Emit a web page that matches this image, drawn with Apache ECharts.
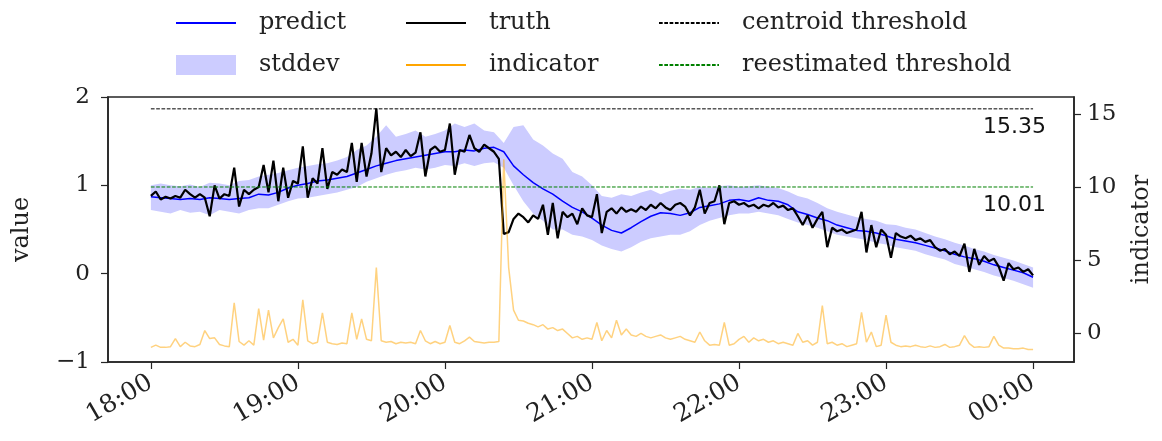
<!DOCTYPE html>
<html><head><meta charset="utf-8">
<script src="https://cdn.jsdelivr.net/npm/echarts@6/dist/echarts.min.js"></script>
<style>html,body{margin:0;padding:0;background:#fff}#c{width:1162px;height:441px}</style>
</head><body><div id="c"></div>
<script>
// minutes after 18:00; truth/indicator sampled every 2 min, predict/stddev every 4 min
const fineStep = 2;
const bandStep = 4;
const truth = [0.88,0.93,0.84,0.87,0.85,0.88,0.86,0.95,0.9,0.86,
 0.9,0.86,0.65,1.0,0.85,0.9,0.88,1.2,0.76,0.95,
 0.9,0.95,0.98,1.23,0.92,1.28,0.82,1.2,0.86,1.05,
 1.02,1.44,0.86,1.08,1.02,1.42,0.96,1.15,1.12,1.18,
 1.15,1.48,1.04,1.48,1.1,1.36,1.87,1.15,1.42,1.34,
 1.38,1.32,1.4,1.33,1.37,1.6,1.1,1.4,1.44,1.38,
 1.4,1.7,1.12,1.4,1.38,1.57,1.42,1.38,1.46,1.42,
 1.38,1.3,0.45,0.47,0.62,0.68,0.64,0.58,0.66,0.62,
 0.78,0.44,0.8,0.4,0.7,0.64,0.68,0.56,0.74,0.66,
 0.64,0.9,0.46,0.7,0.74,0.68,0.75,0.7,0.73,0.7,
 0.76,0.72,0.78,0.74,0.8,0.75,0.72,0.78,0.8,0.76,
 0.66,0.75,0.95,0.68,0.8,0.82,1.0,0.56,0.8,0.82,
 0.78,0.8,0.76,0.78,0.74,0.78,0.76,0.8,0.75,0.77,
 0.72,0.74,0.65,0.55,0.66,0.52,0.62,0.7,0.3,0.52,
 0.48,0.5,0.46,0.48,0.5,0.7,0.24,0.55,0.3,0.5,
 0.44,0.18,0.46,0.42,0.4,0.43,0.38,0.4,0.36,0.38,
 0.3,0.26,0.28,0.22,0.25,0.2,0.34,0.02,0.28,0.1,
 0.2,0.14,0.17,0.08,-0.08,0.12,0.05,0.07,0.02,0.05,
 -0.02];
const indicator = [-0.95,-0.8,-0.95,-0.95,-0.9,-0.35,-0.9,-0.6,-0.85,-0.9,
 -0.75,0.2,-0.35,-0.3,-0.75,-0.85,-0.9,2.1,-0.55,-0.8,
 -0.5,-0.8,1.7,-0.45,1.6,-0.3,0.4,1.0,-0.6,-0.4,
 -0.8,2.3,-0.5,-0.7,-0.6,1.4,-0.6,-0.7,-0.75,-0.65,
 -0.7,1.4,-0.4,1.0,-0.4,-0.5,4.5,-0.5,-0.6,-0.55,
 -0.7,-0.6,-0.65,-0.6,-0.7,0.2,-0.5,-0.7,-0.55,-0.7,
 -0.6,0.55,-0.6,-0.7,-0.5,-0.25,-0.55,-0.6,-0.65,-0.6,
 -0.6,-0.55,11.9,4.5,1.6,0.9,0.85,0.7,0.6,0.45,
 0.6,0.3,0.4,0.2,0.3,0.0,-0.3,-0.2,-0.4,-0.3,
 -0.4,0.75,-0.5,0.2,-0.3,0.9,-0.1,0.3,-0.1,-0.2,
 0.0,-0.2,-0.3,-0.2,-0.1,-0.3,-0.4,-0.3,-0.2,-0.4,
 -0.5,-0.6,0.1,-0.5,-0.8,-0.75,-0.8,0.75,-0.8,-0.7,
 -0.4,-0.2,-0.6,-0.3,-0.5,-0.4,-0.6,-0.5,-0.7,-0.6,
 -0.7,-0.8,0.0,-0.6,-0.5,-0.8,-0.6,1.9,-0.7,-0.6,
 -0.8,-0.7,-0.9,-0.8,-0.7,1.45,-0.6,0.1,-0.9,-0.8,
 1.25,-0.6,-0.8,-0.9,-0.85,-0.9,-0.8,-0.9,-0.95,-0.85,
 -0.95,-0.9,-0.75,-0.95,-0.9,-0.8,-0.15,-0.7,-0.95,-0.9,
 -0.95,-0.9,-0.2,-0.8,-1.0,-1.0,-1.05,-1.05,-1.0,-1.1,
 -1.1];
const predict = [0.87,0.86,0.85,0.84,0.85,0.84,0.86,0.85,0.84,0.85,
 0.86,0.9,0.89,0.92,0.97,1.0,1.02,1.05,1.06,1.08,
 1.1,1.14,1.18,1.22,1.25,1.28,1.3,1.32,1.34,1.36,
 1.38,1.38,1.4,1.39,1.42,1.43,1.38,1.22,1.12,1.03,
 0.96,0.9,0.82,0.75,0.7,0.63,0.55,0.49,0.46,0.52,
 0.59,0.65,0.69,0.68,0.66,0.69,0.75,0.77,0.79,0.83,
 0.84,0.82,0.86,0.83,0.82,0.78,0.7,0.67,0.63,0.6,
 0.55,0.52,0.49,0.48,0.46,0.43,0.39,0.37,0.35,0.32,
 0.29,0.26,0.22,0.19,0.17,0.14,0.1,0.07,0.04,0.01,
 -0.04];
const stdLower = [0.72,0.7,0.68,0.72,0.69,0.7,0.66,0.72,0.7,0.68,
 0.72,0.74,0.74,0.78,0.82,0.85,0.86,0.88,0.9,0.92,
 0.95,0.98,1.04,1.08,1.12,1.15,1.17,1.2,1.18,1.2,
 1.23,1.22,1.25,1.22,1.25,1.26,1.2,1.0,0.82,0.68,
 0.6,0.5,0.5,0.44,0.42,0.38,0.32,0.28,0.25,0.3,
 0.36,0.4,0.42,0.44,0.44,0.48,0.55,0.6,0.63,0.66,
 0.68,0.68,0.7,0.68,0.66,0.62,0.58,0.55,0.52,0.48,
 0.44,0.42,0.4,0.38,0.35,0.33,0.3,0.28,0.26,0.22,
 0.19,0.16,0.11,0.08,0.05,0.02,-0.02,-0.05,-0.08,-0.12,
 -0.16];
const stdUpper = [1.0,1.02,1.0,0.99,1.01,0.98,1.03,1.02,1.0,1.05,
 1.06,1.1,1.12,1.14,1.17,1.2,1.22,1.24,1.25,1.28,
 1.32,1.4,1.45,1.55,1.68,1.55,1.58,1.62,1.55,1.58,
 1.62,1.7,1.66,1.7,1.62,1.6,1.48,1.66,1.68,1.52,
 1.45,1.36,1.3,1.15,1.1,1.0,0.88,0.86,0.9,0.88,
 0.92,0.95,0.9,0.94,0.96,0.95,0.98,0.97,0.99,1.0,
 0.98,0.99,1.0,0.98,0.97,0.93,0.88,0.85,0.8,0.74,
 0.7,0.67,0.64,0.62,0.6,0.56,0.55,0.52,0.5,0.46,
 0.42,0.39,0.35,0.32,0.28,0.25,0.21,0.18,0.15,0.11,
 0.07];
const centroidThreshold = 15.35;
const reestimatedThreshold = 10.01;
const hourTicks = [0, 60, 120, 180, 240, 300, 360];
const indicatorTicks = [0, 5, 10, 15];
const startHour = 18;
const spanEnd = 360;

const pairs = (arr, step) => arr.map((v, i) => [i * step, v]);
const bandData = stdLower.map((lo, i) => [i * bandStep, lo, stdUpper[i]]);

const serif = 'DejaVu Serif';
const tickFont = { fontFamily: serif, fontSize: 23, color: '#222' };
const frameColor = '#262626';

function fmtTime(v) {
  const h = (startHour + Math.floor(v / 60)) % 24;
  const m = ((v % 60) + 60) % 60;
  return String(h).padStart(2, '0') + ':' + String(m).padStart(2, '0');
}
function fmtNum(v) { return v < 0 ? '\u2212' + Math.abs(v) : String(v); }

function thresholdSeries(name, value, color) {
  return {
    name: name, type: 'line', xAxisIndex: 0, yAxisIndex: 1,
    symbol: 'circle', symbolSize: 0, showSymbol: true, silent: true, z: 4,
    lineStyle: { color: color, width: 1, type: [3.7, 1.6] },
    itemStyle: { color: color },
    label: { show: false },
    data: [[0, value], {
      value: [spanEnd, value],
      label: {
        show: true, position: 'bottom', distance: 7, align: 'right', offset: [13, 0],
        fontFamily: 'DejaVu Sans', fontSize: 22, color: '#111',
        formatter: p => p.value[1].toFixed(2)
      }
    }]
  };
}

const chart = echarts.init(document.getElementById('c'), null, { renderer: 'canvas' });
const legendBase = {
  orient: 'vertical', top: 10, padding: 0, itemWidth: 60, itemHeight: 20, itemGap: 16,
  selectedMode: false,
  textStyle: { fontFamily: serif, fontSize: 24, lineHeight: 26, color: '#222', padding: [0, 0, 0, 18] }
};
const hideSym = { opacity: 0 };
const axisLineStyle = { show: true, onZero: false, lineStyle: { color: frameColor, width: 1.6 } };
chart.setOption({
  animation: false,
  backgroundColor: '#fff',
  grid: { left: 108, right: 86, top: 97, bottom: 79, show: true, borderColor: frameColor, borderWidth: 1.6, backgroundColor: 'transparent' },
  legend: [
    Object.assign({}, legendBase, { left: 175, data: [
      { name: 'predict', itemStyle: hideSym },
      { name: 'stddev', icon: 'rect' }] }),
    Object.assign({}, legendBase, { left: 405, data: [
      { name: 'truth', itemStyle: hideSym },
      { name: 'indicator', itemStyle: hideSym, lineStyle: { color: '#FFA500' } }] }),
    Object.assign({}, legendBase, { left: 658, data: [
      { name: 'centroid threshold', itemStyle: hideSym },
      { name: 'reestimated threshold', itemStyle: hideSym }] })
  ],
  xAxis: {
    type: 'value', min: -17.5, max: 376.7,
    axisLine: axisLineStyle,
    axisTick: { show: true, length: 7, lineStyle: { color: frameColor, width: 1.2 }, customValues: hourTicks },
    axisLabel: Object.assign({ rotate: 30, margin: 19, formatter: fmtTime, customValues: hourTicks }, tickFont, { fontSize: 25 }),
    splitLine: { show: false }
  },
  yAxis: [{
    type: 'value', min: -1, max: 2, interval: 1, position: 'left',
    name: 'value', nameLocation: 'middle', nameGap: 74, nameRotate: 90,
    nameTextStyle: { fontFamily: serif, fontSize: 24, color: '#222' },
    axisLine: axisLineStyle,
    axisTick: { show: true, length: 7, lineStyle: { color: frameColor, width: 1.2 } },
    axisLabel: Object.assign({ margin: 18, formatter: fmtNum }, tickFont),
    splitLine: { show: false }
  }, {
    type: 'value', min: -1.95, max: 16.16, position: 'right',
    name: 'indicator', nameLocation: 'middle', nameGap: 56, nameRotate: 90,
    nameTextStyle: { fontFamily: serif, fontSize: 24, color: '#222' },
    axisLine: axisLineStyle,
    axisTick: { show: true, length: 7, lineStyle: { color: frameColor, width: 1.2 }, customValues: indicatorTicks },
    axisLabel: Object.assign({ margin: 13, formatter: fmtNum, customValues: indicatorTicks }, tickFont),
    splitLine: { show: false }
  }],
  series: [
    {
      name: 'stddev', type: 'custom', xAxisIndex: 0, yAxisIndex: 0, z: 1,
      itemStyle: { color: '#CCCCFF' },
      encode: { x: 0, y: [1, 2] },
      data: bandData,
      renderItem: function (params, api) {
        if (params.dataIndex !== 0) return null;
        const pts = [];
        for (let i = 0; i < bandData.length; i++) pts.push(api.coord([bandData[i][0], bandData[i][2]]));
        for (let i = bandData.length - 1; i >= 0; i--) pts.push(api.coord([bandData[i][0], bandData[i][1]]));
        return { type: 'polygon', shape: { points: pts }, style: { fill: '#CCCCFF' }, silent: true };
      }
    },
    {
      name: 'predict', type: 'line', xAxisIndex: 0, yAxisIndex: 0, z: 2,
      symbol: 'none', lineStyle: { color: '#0000FF', width: 1.5 }, itemStyle: { color: '#0000FF' },
      data: pairs(predict, bandStep)
    },
    {
      name: 'truth', type: 'line', xAxisIndex: 0, yAxisIndex: 0, z: 3,
      symbol: 'none', lineStyle: { color: '#000', width: 2.2 }, itemStyle: { color: '#000' },
      data: pairs(truth, fineStep)
    },
    thresholdSeries('centroid threshold', centroidThreshold, '#000'),
    thresholdSeries('reestimated threshold', reestimatedThreshold, '#008000'),
    {
      name: 'indicator', type: 'line', xAxisIndex: 0, yAxisIndex: 1, z: 5,
      symbol: 'none', lineStyle: { color: 'rgba(255,165,0,0.5)', width: 1.5 }, itemStyle: { color: '#FFA500' },
      data: pairs(indicator, fineStep)
    }
  ]
});
</script>
</body></html>
